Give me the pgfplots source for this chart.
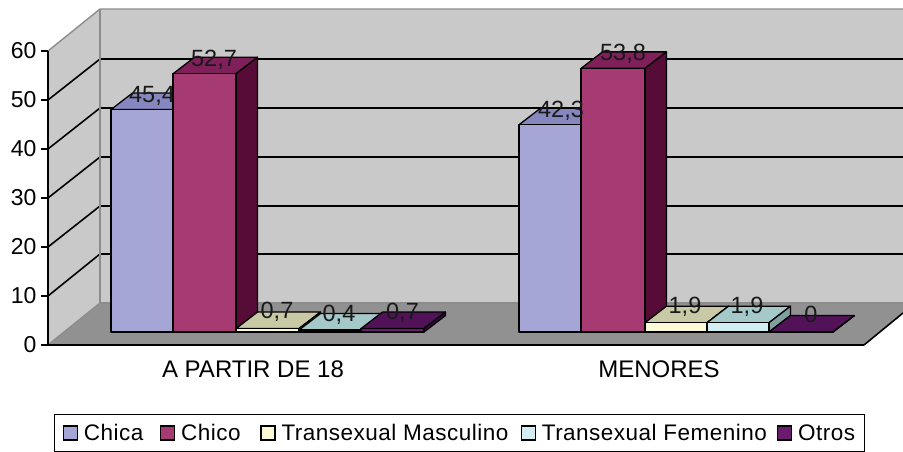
\documentclass[border=0pt]{standalone}
\usepackage{pgfplots}
\pgfplotsset{compat=1.18}
\usepackage{fontspec}
\setmainfont{Liberation Sans}
\newfontfamily\legfont[LetterSpace=2.2]{Liberation Sans}
\definecolor{wall}{RGB}{201,201,201}
\definecolor{floorc}{RGB}{145,145,145}
\definecolor{edgec}{RGB}{140,140,140}
\definecolor{aF}{RGB}{166,166,214}\definecolor{aT}{RGB}{135,135,192}\definecolor{aS}{RGB}{100,100,150}
\definecolor{bF}{RGB}{166,58,114}\definecolor{bT}{RGB}{128,32,90}\definecolor{bS}{RGB}{86,12,54}
\definecolor{cF}{RGB}{252,250,214}\definecolor{cT}{RGB}{201,201,166}\definecolor{cS}{RGB}{160,160,130}
\definecolor{dF}{RGB}{210,238,242}\definecolor{dT}{RGB}{165,200,200}\definecolor{dS}{RGB}{128,160,160}
\definecolor{eF}{RGB}{106,27,110}\definecolor{eT}{RGB}{82,18,88}\definecolor{eS}{RGB}{62,12,66}
\newcommand{\tdbar}[4]{% xleft, xright, value, colour prefix
  \pgfmathsetmacro{\xa}{#1+21.5}\pgfmathsetmacro{\xb}{#2+21.5}
  \pgfmathsetmacro{\vb}{#3+3.37}
  \edef\tmp{\noexpand\addplot[barface,fill=#4T] coordinates {(#1,#3)(#2,#3)(\xb,\vb)(\xa,\vb)} -- cycle;
    \noexpand\addplot[barface,fill=#4S] coordinates {(#2,0)(\xb,3.37)(\xb,\vb)(#2,#3)} -- cycle;
    \noexpand\addplot[barface,fill=#4F] coordinates {(#1,0)(#2,0)(#2,#3)(#1,#3)} -- cycle;}
  \tmp}
\begin{document}
\begin{tikzpicture}[x=1pt,y=1pt]
\path[use as bounding box] (0,0) rectangle (903,452);
\begin{axis}[
  at={(48pt,107pt)},anchor=south west,
  scale only axis,width=816pt,height=294pt,
  xmin=48,xmax=864,ymin=0,ymax=60,
  clip=false,axis on top,
  axis x line*=bottom,axis y line*=left,
  axis line style={-,line width=1.6pt,black},
  tick style={black,line width=1.4pt},
  major tick length=7pt,
  tick align=outside,
  ytick={0,10,...,60},
  xtick={253,659},
  xticklabels={A PARTIR DE 18,MENORES},
  x tick style={draw=none},
  extra x ticks={48,455,864},
  extra x tick labels={},
  extra x tick style={tick style={black,line width=1.4pt}},
  /pgf/number format/assume math mode=true,
  tick label style={font=\fontsize{23}{27}\selectfont},
  xticklabel style={yshift=-5pt,font=\fontsize{24}{28}\selectfont},
  yticklabel style={xshift=-1pt},
  pix/.style={y filter/.expression={(345-y)/4.9}},
  val/.style={y filter/.expression={y+2.65}},
  barface/.style={val,draw=black,line width=1.3pt,line join=round,mark=none,forget plot},
  wallf/.style={pix,mark=none,forget plot,draw=none},
  grid line/.style={pix,mark=none,forget plot,black,line width=1.6pt},
  edge line/.style={pix,mark=none,forget plot,edgec,line width=1.4pt},
  legend columns=5,
  legend cell align=left,
  legend style={at={(axis cs:54,-14.08)},anchor=north west,draw=black,line width=1.3pt,
     inner xsep=8pt,inner ysep=7.4pt,
     font=\fontsize{22.5}{26}\legfont,
     /tikz/every even column/.append style={column sep=0pt},
     /tikz/every odd column/.append style={column sep=4pt}},
  legend image code/.code={\draw[#1,draw=black,line width=1.3pt] (0pt,-7pt) rectangle (14pt,7pt);},
]
% walls and floor
\addplot[wallf,fill=wall] coordinates {(100,9)(903,9)(903,303)(100,303)} -- cycle;
\addplot[wallf,fill=wall] coordinates {(48,51)(100,9)(100,303)(48,345)} -- cycle;
\addplot[wallf,fill=floorc] coordinates {(48,345)(864,345)(903,313)(903,303)(100,303)} -- cycle;
% gridlines
\addplot[grid line] coordinates {(48,296)(100,254)(903,254)};
\addplot[grid line] coordinates {(48,247)(100,206)(903,206)};
\addplot[grid line] coordinates {(48,198)(100,157)(903,157)};
\addplot[grid line] coordinates {(48,149)(100,108)(903,108)};
\addplot[grid line] coordinates {(48,100)(100,59)(903,59)};
% wall edges
\addplot[edge line] coordinates {(48,51)(100,9)(903,9)};
\addplot[edge line] coordinates {(100,9)(100,303)(903,303)};
\addplot[edge line] coordinates {(48,345)(100,303)};
\addplot[grid line] coordinates {(864,345)(903,313)};
% bars: A PARTIR DE 18
\tdbar{111}{173}{45.4}{a}
\tdbar{173}{236}{52.7}{b}
\tdbar{236}{299}{0.7}{c}
\tdbar{299}{361}{0.4}{d}
\tdbar{361}{424}{0.7}{e}
% bars: MENORES
\tdbar{519}{581}{42.3}{a}
\tdbar{581}{645}{53.8}{b}
\tdbar{645}{707}{1.9}{c}
\tdbar{707}{769}{1.9}{d}
\tdbar{769}{833}{0}{e}
% data labels
\addplot[pix,draw=none,mark=none,forget plot,point meta=explicit symbolic,
  nodes near coords,
  every node near coord/.append style={anchor=base,inner sep=0pt,yshift=0pt,black!90,font=\fontsize{23.5}{27}\selectfont}]
 table[meta=l,row sep=\\] {
 x y l\\
 152 102.5 45,4\\
 214 66 52,7\\
 277 319 0,7\\
 339 321.5 0,4\\
 402.5 320 0,7\\
 561 117 42,3\\
 623 60.7 53,8\\
 685 314 1,9\\
 747 314 1,9\\
 811 323 0\\
 };
% legend
\addlegendimage{fill=aF}\addlegendentry{\makebox[74pt][l]{Chica}}
\addlegendimage{fill=bF}\addlegendentry{\makebox[77pt][l]{Chico}}
\addlegendimage{fill=cF}\addlegendentry{\makebox[237pt][l]{Transexual Masculino}}
\addlegendimage{fill=dF}\addlegendentry{\makebox[233pt][l]{Transexual Femenino}}
\addlegendimage{fill=eF}\addlegendentry{\makebox[56pt][l]{Otros}}
\end{axis}
\end{tikzpicture}
\end{document}
